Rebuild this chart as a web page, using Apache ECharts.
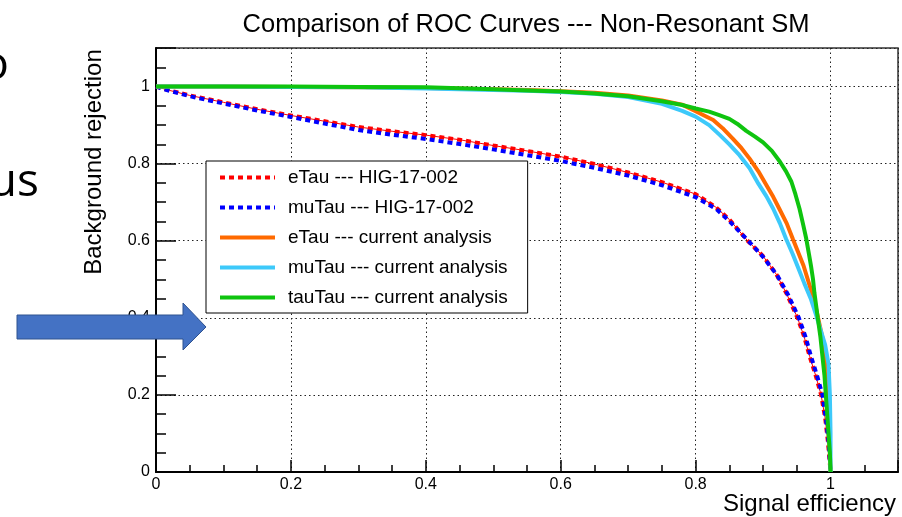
<!DOCTYPE html>
<html>
<head>
<meta charset="utf-8">
<title>Comparison of ROC Curves</title>
<script src="https://cdn.jsdelivr.net/npm/echarts@6.0.0/dist/echarts.min.js"></script>
<style>
  html, body { margin: 0; padding: 0; background: #fff; }
  #main { width: 902px; height: 517px; }
</style>
</head>
<body>
<div id="main"></div>
<script>
// ROC curves: x = signal efficiency, y = background rejection
const eTauOldX = [0, 0.02, 0.05, 0.1, 0.15, 0.2, 0.25, 0.3, 0.35, 0.4, 0.45, 0.5, 0.55, 0.6, 0.65, 0.7, 0.75, 0.8, 0.83, 0.85, 0.877, 0.9, 0.92, 0.935, 0.951, 0.961, 0.969, 0.978, 0.986, 0.992, 0.996, 1.0];
const eTauOldY = [1, 0.99, 0.977, 0.959, 0.941, 0.925, 0.91, 0.895, 0.884, 0.874, 0.862, 0.847, 0.833, 0.818, 0.799, 0.777, 0.752, 0.721, 0.687, 0.655, 0.6, 0.56, 0.512, 0.462, 0.4, 0.35, 0.3, 0.25, 0.2, 0.14, 0.08, 0];

const muTauOldX = [0, 0.02, 0.05, 0.1, 0.15, 0.2, 0.25, 0.3, 0.35, 0.4, 0.45, 0.5, 0.55, 0.6, 0.65, 0.7, 0.75, 0.8, 0.83, 0.85, 0.878, 0.9, 0.921, 0.937, 0.953, 0.963, 0.971, 0.98, 0.988, 0.993, 0.997, 1.0];
const muTauOldY = [1, 0.989, 0.975, 0.956, 0.938, 0.921, 0.904, 0.887, 0.875, 0.864, 0.851, 0.837, 0.822, 0.807, 0.789, 0.769, 0.744, 0.713, 0.683, 0.651, 0.6, 0.558, 0.51, 0.46, 0.4, 0.35, 0.3, 0.25, 0.2, 0.14, 0.08, 0];

const eTauNewX = [0, 0.1, 0.2, 0.3, 0.4, 0.5, 0.55, 0.6, 0.65, 0.7, 0.75, 0.78, 0.8, 0.826, 0.84, 0.855, 0.868, 0.88, 0.893, 0.905, 0.915, 0.924, 0.935, 0.944, 0.952, 0.96, 0.967, 0.974, 0.979, 0.984, 0.989, 0.993, 0.996, 0.998, 1.0];
const eTauNewY = [1, 1, 0.999, 0.998, 0.996, 0.993, 0.991, 0.988, 0.984, 0.977, 0.964, 0.953, 0.936, 0.913, 0.892, 0.865, 0.84, 0.813, 0.78, 0.744, 0.714, 0.683, 0.645, 0.605, 0.57, 0.535, 0.495, 0.455, 0.42, 0.38, 0.34, 0.3, 0.2, 0.1, 0];

const muTauNewX = [0, 0.1, 0.2, 0.3, 0.4, 0.5, 0.55, 0.6, 0.65, 0.7, 0.75, 0.78, 0.8, 0.82, 0.836, 0.85, 0.865, 0.88, 0.893, 0.905, 0.915, 0.925, 0.934, 0.944, 0.952, 0.961, 0.971, 0.979, 0.985, 0.992, 0.997, 0.999, 1.0, 1.0];
const muTauNewY = [1, 1, 0.999, 0.998, 0.995, 0.991, 0.989, 0.986, 0.981, 0.973, 0.955, 0.937, 0.922, 0.9, 0.874, 0.85, 0.822, 0.788, 0.748, 0.715, 0.683, 0.645, 0.605, 0.565, 0.53, 0.49, 0.448, 0.405, 0.37, 0.33, 0.28, 0.2, 0.1, 0];

const tauTauNewX = [0, 0.1, 0.2, 0.3, 0.4, 0.5, 0.55, 0.6, 0.65, 0.7, 0.75, 0.78, 0.8, 0.82, 0.835, 0.85, 0.862, 0.875, 0.888, 0.9, 0.913, 0.925, 0.934, 0.942, 0.948, 0.954, 0.959, 0.964, 0.968, 0.971, 0.974, 0.976, 0.981, 0.985, 0.988, 0.991, 0.993, 0.995, 0.997, 0.999, 1.0];
const tauTauNewY = [1, 1, 1, 0.999, 0.998, 0.993, 0.99, 0.987, 0.982, 0.975, 0.962, 0.952, 0.943, 0.935, 0.926, 0.916, 0.903, 0.885, 0.87, 0.855, 0.833, 0.805, 0.78, 0.753, 0.72, 0.683, 0.645, 0.605, 0.565, 0.535, 0.5, 0.466, 0.4, 0.35, 0.3, 0.25, 0.2, 0.15, 0.1, 0.05, 0];

const seriesNames = ['eTau --- HIG-17-002', 'muTau --- HIG-17-002', 'eTau --- current analysis', 'muTau --- current analysis', 'tauTau --- current analysis'];
const titleText = 'Comparison of ROC Curves --- Non-Resonant SM';
const xTitle = 'Signal efficiency';
const yTitle = 'Background rejection';

const FONT = '"Liberation Sans", Arial, Helvetica, sans-serif';

function pairs(xs, ys) {
  let out = [];
  for (let i = 0; i < xs.length; i++) {
    out.push([xs[i], ys[i]]);
  }
  return out;
}

function curve(name, xs, ys, color, type, width) {
  return {
    name: name,
    type: 'line',
    data: pairs(xs, ys),
    symbol: 'none',
    smooth: false,
    silent: true,
    z: 2,
    lineStyle: { color: color, width: width, type: type, cap: 'butt' },
    itemStyle: { color: color }
  };
}

const labelFmt = function (v) {
  if (v > 1.01) return '';
  return String(Math.round(v * 10) / 10);
};

const chart = echarts.init(document.getElementById('main'));

const option = {
  animation: false,
  backgroundColor: '#fff',
  textStyle: { fontFamily: FONT },
  title: {
    text: titleText,
    left: 521,
    textAlign: 'center',
    top: 7,
    textStyle: { fontFamily: FONT, fontSize: 25.5, fontWeight: 'normal', color: '#000' }
  },
  grid: {
    left: 156, top: 48, width: 742, height: 424,
    show: true, borderColor: '#333', borderWidth: 1.5, backgroundColor: 'transparent'
  },
  xAxis: [
    {
      type: 'value', position: 'bottom', min: 0, max: 1.1, interval: 0.2,
      axisLine: { show: true, onZero: false, lineStyle: { color: '#000', width: 2 } },
      axisTick: { show: true, inside: true, length: 12, lineStyle: { color: '#000', width: 1.5 } },
      axisLabel: { margin: 5, fontSize: 16, color: '#000', fontFamily: FONT, formatter: labelFmt },
      splitLine: { show: true, lineStyle: { color: '#222', width: 1, type: [1.5, 3] } }
    },
    {
      // minor ticks every 0.05
      type: 'value', position: 'bottom', offset: 0, min: 0, max: 1.1, interval: 0.05,
      axisLine: { show: false, onZero: false },
      axisTick: { show: true, inside: true, length: 7, lineStyle: { color: '#000', width: 1.5 } },
      axisLabel: { show: false },
      splitLine: { show: false }
    }
  ],
  yAxis: [
    {
      type: 'value', position: 'left', min: 0, max: 1.1, interval: 0.2,
      axisLine: { show: true, onZero: false, lineStyle: { color: '#000', width: 2 } },
      axisTick: { show: true, inside: true, length: 20, lineStyle: { color: '#000', width: 1.5 } },
      axisLabel: { margin: 6, fontSize: 16, color: '#000', fontFamily: FONT, formatter: labelFmt },
      splitLine: { show: true, lineStyle: { color: '#222', width: 1, type: [1.5, 3] } }
    },
    {
      type: 'value', position: 'left', offset: 0, min: 0, max: 1.1, interval: 0.05,
      axisLine: { show: false, onZero: false },
      axisTick: { show: true, inside: true, length: 10, lineStyle: { color: '#000', width: 1.5 } },
      axisLabel: { show: false },
      splitLine: { show: false }
    }
  ],
  legend: {
    data: seriesNames,
    orient: 'vertical',
    left: 206,
    top: 161,
    padding: [7, 20, 6, 12],
    itemWidth: 55,
    itemHeight: 18,
    itemGap: 11,
    backgroundColor: '#fff',
    borderColor: '#000',
    borderWidth: 1,
    borderRadius: 0,
    selectedMode: false,
    itemStyle: { opacity: 0 },
    lineStyle: { width: 4 },
    textStyle: { fontFamily: FONT, fontSize: 19, color: '#000', padding: [0, 0, 0, 8] }
  },
  series: [
    // thin red line under the red dashes, as in the original
    curve('eTau thin', eTauOldX, eTauOldY, '#ff0000', 'solid', 1),
    curve(seriesNames[0], eTauOldX, eTauOldY, '#ff0000', [5, 4], 4),
    curve(seriesNames[1], muTauOldX, muTauOldY, '#0000ff', [5, 4], 4),
    curve(seriesNames[2], eTauNewX, eTauNewY, '#ff6a00', 'solid', 4),
    curve(seriesNames[3], muTauNewX, muTauNewY, '#3dc9fa', 'solid', 4),
    curve(seriesNames[4], tauTauNewX, tauTauNewY, '#0fc40f', 'solid', 4)
  ],
  graphic: [
    {
      type: 'text', x: 94, y: 162, rotation: Math.PI / 2, silent: true,
      style: { text: yTitle, font: '24px ' + FONT, fill: '#000', align: 'center', verticalAlign: 'middle' }
    },
    {
      type: 'text', x: 896, y: 504, silent: true,
      style: { text: xTitle, font: '24px ' + FONT, fill: '#000', align: 'right', verticalAlign: 'middle' }
    },
    // bits of the slide that sit round the plot
    {
      type: 'text', x: 9, y: 66, silent: true,
      style: { text: 'o', font: '46px "Open Sans", sans-serif', fill: '#000', align: 'right', verticalAlign: 'middle' }
    },
    {
      type: 'text', x: 39, y: 183, silent: true,
      style: { text: 'us', font: '46px "Open Sans", sans-serif', fill: '#000', align: 'right', verticalAlign: 'middle' }
    },
    {
      type: 'polygon', silent: true, z: 100,
      shape: { points: [[17, 315], [183, 315], [183, 303], [206, 327], [183, 350], [183, 339], [17, 339]] },
      style: { fill: '#4472c4', stroke: '#2f528f', lineWidth: 1 }
    }
  ]
};

chart.setOption(option);
</script>
</body>
</html>
